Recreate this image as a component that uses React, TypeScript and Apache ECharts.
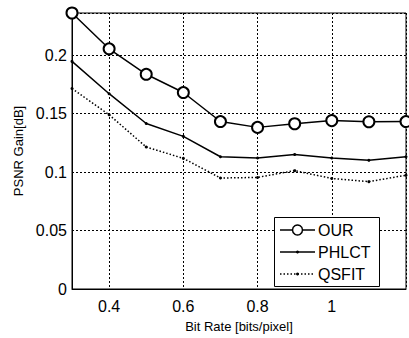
import React, { useEffect, useRef } from "react";
import * as echarts from "echarts";

const bitRates = [0.3, 0.4, 0.5, 0.6, 0.7, 0.8, 0.9, 1.0, 1.1, 1.2];
const ourValues = [0.236, 0.2054, 0.1836, 0.168, 0.1432, 0.1382, 0.1413, 0.144, 0.143, 0.1432];
const phlctValues = [0.1946, 0.167, 0.1415, 0.1305, 0.1131, 0.112, 0.115, 0.112, 0.11, 0.113];
const qsfitValues = [0.1714, 0.149, 0.1214, 0.1117, 0.0949, 0.0954, 0.1012, 0.0945, 0.0918, 0.0973];
const seriesNames = ["OUR", "PHLCT", "QSFIT"];
const xTickLabels = ["0.4", "0.6", "0.8", "1"];
const yTickLabels = ["0", "0.05", "0.1", "0.15", "0.2"];

const FONT = "Liberation Sans, Arial, sans-serif";

function pairs(vals: number[]) {
  return bitRates.map((x, i) => [x, vals[i]]);
}

export default function App() {
  const ref = useRef<HTMLDivElement>(null);
  useEffect(() => {
    document.body.style.margin = "0";
    const chart = echarts.init(ref.current!, null, { renderer: "svg" });
    const fmtX = (v: number) => {
      const s = String(Math.round(v * 10) / 10);
      return xTickLabels.includes(s) ? s : "";
    };
    const fmtY = (v: number) => {
      const s = String(Math.round(v * 100) / 100);
      return yTickLabels.includes(s) ? s : "";
    };

    // legend drawn as graphic
    const lx = 274, ly = 217, lw = 105, lh = 69;
    const rowY = [230, 252, 274];
    const lineX1 = 280, lineX2 = 315, midX = 297.5, textX = 318;
    const legendEls: any[] = [
      {
        type: "rect",
        shape: { x: lx + 0.5, y: ly + 0.5, width: lw, height: lh },
        style: { fill: "#fff", stroke: "#000", lineWidth: 1 },
        z: 100,
      },
    ];
    seriesNames.forEach((name, i) => {
      const y = rowY[i];
      legendEls.push({
        type: "line",
        shape: { x1: lineX1, y1: y, x2: lineX2, y2: y },
        style: {
          stroke: "#000",
          lineWidth: 1.5,
          lineDash: i === 2 ? [1.5, 2] : null,
        },
        z: 101,
      });
      if (i === 0) {
        legendEls.push({
          type: "circle",
          shape: { cx: midX, cy: y, r: 5 },
          style: { fill: "#fff", stroke: "#000", lineWidth: 1.5 },
          z: 102,
        });
      } else {
        legendEls.push({
          type: "circle",
          shape: { cx: midX, cy: y, r: 1.5 },
          style: { fill: "#000" },
          z: 102,
        });
      }
      legendEls.push({
        type: "text",
        x: textX,
        y: y,
        style: {
          text: name,
          fill: "#000",
          font: `16px ${FONT}`,
          textVerticalAlign: "middle",
          verticalAlign: "middle",
        },
        z: 102,
      });
    });

    chart.setOption({
      animation: false,
      backgroundColor: "#fff",
      grid: {
        left: 72,
        top: 13,
        right: -1,
        bottom: 41,
        show: true,
        borderColor: "#000",
        borderWidth: 1,
        backgroundColor: "transparent",
      },
      xAxis: {
        type: "value",
        min: 0.3,
        max: 1.2,
        interval: 0.1,
        name: "Bit Rate [bits/pixel]",
        nameLocation: "middle",
        nameGap: 31,
        nameTextStyle: { color: "#000", fontFamily: FONT, fontSize: 13 },
        axisLine: { show: true, onZero: false, lineStyle: { color: "#000", width: 1 } },
        axisTick: { show: false },
        axisLabel: {
          color: "#000",
          fontFamily: FONT,
          fontSize: 16,
          margin: 9,
          formatter: fmtX,
        },
        splitLine: {
          show: true,
          lineStyle: { color: ["rgba(0,0,0,0)", "#000"], type: [2, 2], width: 1 },
        },
      },
      yAxis: {
        type: "value",
        min: 0,
        max: 0.236,
        interval: 0.05,
        name: "PSNR Gain[dB]",
        nameLocation: "middle",
        nameGap: 44,
        nameTextStyle: { color: "#000", fontFamily: FONT, fontSize: 13 },
        axisLine: { show: true, lineStyle: { color: "#000", width: 1 } },
        axisTick: { show: false },
        axisLabel: {
          color: "#000",
          fontFamily: FONT,
          fontSize: 16,
          margin: 5,
          showMaxLabel: false,
          formatter: fmtY,
        },
        splitLine: {
          show: true,
          lineStyle: { color: "#000", type: [2, 2], width: 1 },
        },
      },
      graphic: legendEls,
      series: [
        {
          name: seriesNames[0],
          type: "line",
          data: pairs(ourValues),
          symbol: "emptyCircle",
          symbolSize: 11,
          clip: false,
          lineStyle: { color: "#000", width: 1.5 },
          itemStyle: { color: "#000", borderColor: "#000", borderWidth: 1.5 },
          z: 5,
        },
        {
          name: seriesNames[1],
          type: "line",
          data: pairs(phlctValues),
          symbol: "circle",
          symbolSize: 3,
          lineStyle: { color: "#000", width: 1.5 },
          itemStyle: { color: "#000" },
        },
        {
          name: seriesNames[2],
          type: "line",
          data: pairs(qsfitValues),
          symbol: "circle",
          symbolSize: 3,
          lineStyle: { color: "#000", width: 1.5, type: [1.5, 2] },
          itemStyle: { color: "#000" },
        },
      ],
    });
    return () => chart.dispose();
  }, []);
  return <div ref={ref} style={{ width: 409, height: 338 }} />;
}
